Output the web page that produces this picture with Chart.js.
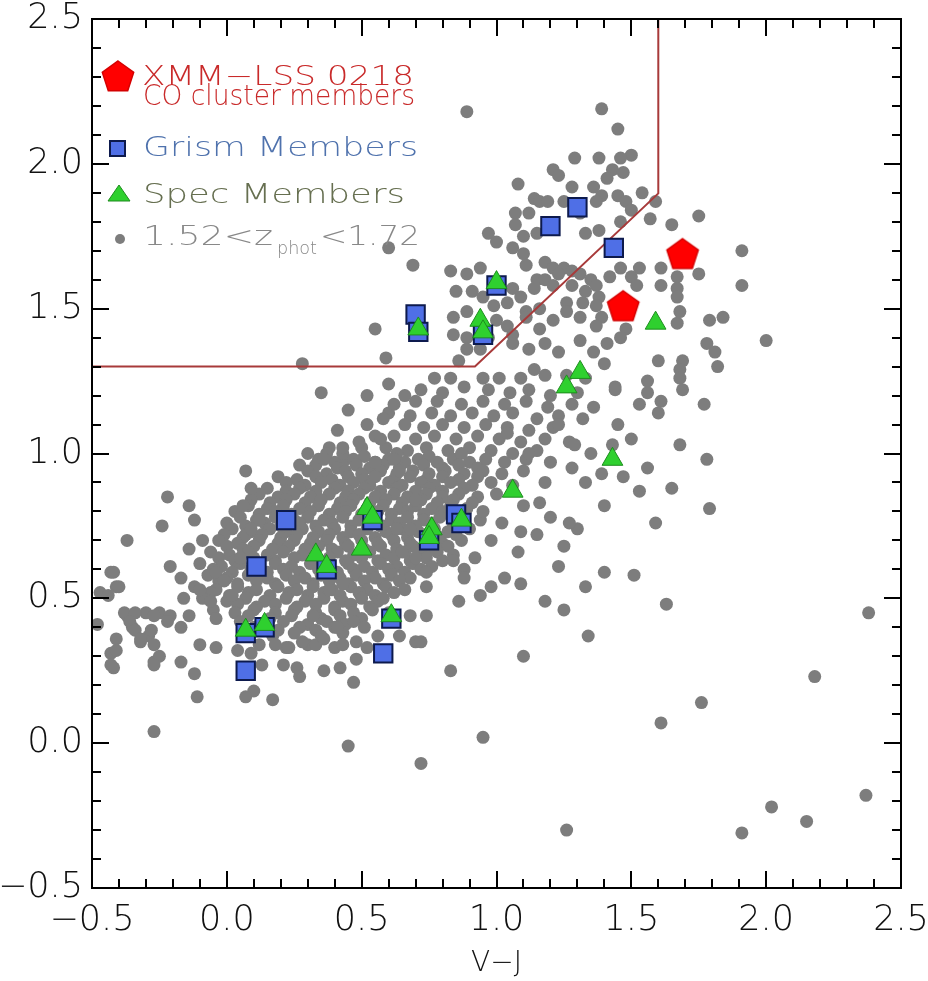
<!DOCTYPE html>
<html>
<head>
<meta charset="utf-8">
<title>UVJ diagram</title>
<script src="https://cdn.jsdelivr.net/npm/chart.js@4.4.0/dist/chart.umd.min.js"></script>
<style>
  html, body { margin: 0; padding: 0; background: #fff; }
</style>
</head>
<body>
<canvas id="mycanvas" width="928" height="981"></canvas>
<script>
// V-J / U-V colours of the cluster samples
var coMembers = [[1.47, 1.51], [1.69, 1.69]];

var grismMembers = [
    [1.30, 1.85], [1.20, 1.785], [1.435, 1.71], [1.00, 1.58], [0.70, 1.48], [0.71, 1.42], [0.95, 1.41],
    [0.85, 0.79], [0.87, 0.76], [0.75, 0.70], [0.54, 0.77], [0.22, 0.77], [0.11, 0.61], [0.37, 0.60],
    [0.61, 0.43], [0.58, 0.31], [0.07, 0.38], [0.14, 0.40], [0.07, 0.25]
];

var specMembers = [
    [1.59, 1.45], [1.31, 1.28], [1.26, 1.23], [1.43, 0.98], [1.06, 0.87], [0.94, 1.46], [0.95, 1.42],
    [1.00, 1.59], [0.71, 1.43], [0.87, 0.77], [0.76, 0.74], [0.75, 0.71], [0.52, 0.81], [0.54, 0.78],
    [0.50, 0.67], [0.33, 0.65], [0.37, 0.61], [0.61, 0.44], [0.07, 0.39], [0.14, 0.41]
];

// quiescent selection: U-V > 1.3, V-J < 1.6, U-V > 0.88(V-J) + 0.49
var boxVJ = [-0.5, 0.92, 1.6, 1.6];
var boxUV = [1.3, 1.3, 1.898, 2.5];

// photometric-redshift sample 1.52 < z_phot < 1.72
var photzSample = [
    // upper arm
    [0.89, 2.18], [1.39, 2.19], [1.45, 2.12], [1.29, 2.02], [1.38, 2.02], [1.50, 2.03], [1.46, 2.02], [1.43, 1.98],
    [1.47, 1.97], [1.41, 1.95], [1.21, 1.98], [1.23, 1.96], [1.08, 1.93], [1.28, 1.92], [1.36, 1.92], [1.54, 1.90],
    [1.39, 1.89], [1.45, 1.89], [1.48, 1.87], [1.59, 1.87], [1.50, 1.84], [1.57, 1.81], [1.46, 1.80], [1.75, 1.82],
    [1.65, 1.79], [1.14, 1.88], [1.16, 1.87], [1.19, 1.87], [1.25, 1.87], [1.37, 1.87], [1.07, 1.83], [1.12, 1.83],
    [1.31, 1.83], [0.97, 1.76], [1.00, 1.73], [1.07, 1.79], [1.10, 1.75], [1.15, 1.76], [1.33, 1.76], [1.38, 1.77],
    [1.06, 1.71], [1.10, 1.69], [0.60, 1.71], [0.69, 1.65], [0.83, 1.63], [0.89, 1.62], [0.94, 1.64], [1.11, 1.65],
    [1.18, 1.66], [1.21, 1.64], [1.25, 1.64], [1.28, 1.63], [1.15, 1.60], [1.18, 1.60], [1.23, 1.62], [1.31, 1.62],
    [1.35, 1.60], [1.46, 1.64], [1.53, 1.64], [1.42, 1.61], [1.50, 1.61], [1.61, 1.64], [1.75, 1.62], [1.91, 1.70],
    [1.91, 1.58], [1.61, 1.58], [1.67, 1.61], [1.52, 1.58], [1.67, 1.57], [1.67, 1.54], [1.38, 1.54], [1.68, 1.49],
    [1.39, 1.47], [1.67, 1.45], [1.79, 1.46], [1.84, 1.47], [1.48, 1.43], [1.46, 1.40], [1.41, 1.38], [2.00, 1.39],
    [1.78, 1.38], [1.81, 1.35], [1.82, 1.30], [1.60, 1.32], [1.69, 1.32], [1.68, 1.29], [1.68, 1.26], [1.56, 1.25],
    [1.44, 1.23], [1.40, 1.31], [1.56, 1.21], [1.69, 1.22], [1.61, 1.18], [1.44, 1.22],
    [0.85, 1.56], [0.91, 1.56], [0.95, 1.54], [1.06, 1.57], [1.14, 1.57], [1.21, 1.58], [1.28, 1.58], [1.33, 1.56],
    [1.37, 1.58], [0.84, 1.47], [0.89, 1.49], [0.99, 1.51], [1.04, 1.52], [1.09, 1.54], [1.11, 1.49], [1.16, 1.50],
    [1.26, 1.52], [1.32, 1.52], [1.37, 1.51], [0.84, 1.41], [0.89, 1.40], [1.00, 1.46], [1.04, 1.44], [1.06, 1.41],
    [1.11, 1.47], [1.16, 1.43], [1.21, 1.46], [1.26, 1.49], [1.31, 1.47], [1.37, 1.44], [0.59, 1.33], [0.86, 1.32],
    [0.89, 1.36], [0.94, 1.36], [0.97, 1.40], [1.06, 1.38], [1.12, 1.36], [1.18, 1.38], [1.23, 1.35], [1.31, 1.39],
    [1.36, 1.35], [0.77, 1.26], [0.83, 1.26], [0.95, 1.26], [1.01, 1.26], [1.09, 1.26], [1.14, 1.29], [1.18, 1.27],
    [1.26, 1.27], [1.33, 1.26], [0.55, 1.43], [0.28, 1.31], [0.35, 1.21],
    // band between the arm and the core
    [0.72, 1.22], [0.80, 1.21], [0.88, 1.23], [0.97, 1.22], [1.05, 1.21], [1.12, 1.22], [1.20, 1.20], [1.30, 1.21],
    [0.70, 1.18], [0.78, 1.18], [0.87, 1.17], [0.95, 1.18], [1.03, 1.17], [1.11, 1.18], [1.19, 1.16], [1.28, 1.17],
    [1.36, 1.16], [0.60, 1.14], [0.68, 1.13], [0.76, 1.14], [0.83, 1.13], [0.91, 1.14], [0.99, 1.13], [1.06, 1.14],
    [1.15, 1.12], [1.23, 1.13], [1.32, 1.12], [0.66, 1.10], [0.73, 1.09], [0.80, 1.10], [0.88, 1.09], [0.96, 1.10],
    [1.04, 1.09], [1.12, 1.08], [1.21, 1.09], [0.55, 1.06], [0.62, 1.06], [0.70, 1.05], [0.77, 1.06], [0.85, 1.05],
    [0.93, 1.06], [1.01, 1.05], [1.09, 1.04], [1.18, 1.05], [1.27, 1.04], [0.50, 1.02], [0.59, 1.02], [0.67, 1.01],
    [0.74, 1.02], [0.82, 1.01], [0.90, 1.02], [0.98, 1.01], [1.06, 1.00], [1.15, 1.01], [0.45, 1.15], [0.52, 1.10],
    [0.58, 1.12], [0.62, 1.17], [0.66, 1.20], [0.41, 1.08], [0.60, 1.24], [0.52, 1.20], [0.38, 1.02], [0.30, 1.00],
    [0.44, 0.98], [0.49, 1.04], [0.57, 1.05],
    // core
    [0.34, 0.98], [0.40, 0.97], [0.47, 0.98], [0.55, 0.97], [0.60, 0.98], [0.66, 0.97], [0.71, 0.98], [0.78, 0.97],
    [0.84, 0.98], [0.90, 0.97], [0.96, 0.98], [1.03, 0.97], [1.11, 0.98], [1.20, 0.97],
    [0.37, 1.00], [0.43, 1.00], [0.51, 0.99], [0.63, 1.00], [0.75, 0.99], [0.87, 1.00],
    [0.27, 0.96], [0.33, 0.96], [0.41, 0.95], [0.48, 0.96], [0.53, 0.95], [0.58, 0.96], [0.64, 0.95], [0.73, 0.96],
    [0.80, 0.95], [0.86, 0.96], [0.93, 0.95],
    [0.30, 0.94], [0.37, 0.93], [0.44, 0.94], [0.50, 0.93], [0.57, 0.94], [0.63, 0.93], [0.69, 0.94], [0.75, 0.93],
    [0.81, 0.94], [0.88, 0.93], [0.95, 0.94], [1.02, 0.93], [1.10, 0.94],
    [0.19, 0.92], [0.26, 0.91], [0.33, 0.92], [0.39, 0.91], [0.45, 0.92], [0.51, 0.91], [0.55, 0.92], [0.62, 0.91],
    [0.68, 0.92], [0.74, 0.91], [0.80, 0.92], [0.86, 0.91], [0.93, 0.92],
    [0.22, 0.90], [0.29, 0.89], [0.35, 0.90], [0.42, 0.89], [0.47, 0.90], [0.53, 0.89], [0.60, 0.90], [0.65, 0.89],
    [0.72, 0.90], [0.77, 0.89], [0.83, 0.90], [0.91, 0.89], [0.98, 0.90], [1.06, 0.89],
    [0.15, 0.88], [0.22, 0.87], [0.27, 0.88], [0.33, 0.87], [0.40, 0.88], [0.45, 0.87], [0.51, 0.88], [0.57, 0.87],
    [0.63, 0.88], [0.70, 0.87], [0.75, 0.88], [0.80, 0.87], [0.88, 0.88],
    [0.12, 0.86], [0.19, 0.85], [0.25, 0.86], [0.31, 0.85], [0.38, 0.86], [0.44, 0.85], [0.49, 0.86], [0.55, 0.85],
    [0.62, 0.86], [0.67, 0.85], [0.74, 0.86], [0.80, 0.85], [0.86, 0.86], [0.93, 0.85], [1.00, 0.86],
    [0.09, 0.84], [0.16, 0.83], [0.22, 0.84], [0.29, 0.83], [0.35, 0.84], [0.42, 0.83], [0.47, 0.84], [0.53, 0.83],
    [0.59, 0.84], [0.65, 0.83], [0.72, 0.84], [0.78, 0.83], [0.84, 0.84], [0.91, 0.83],
    [0.08, 0.82], [0.15, 0.81], [0.21, 0.82], [0.27, 0.81], [0.34, 0.82], [0.41, 0.81], [0.46, 0.82], [0.52, 0.81],
    [0.58, 0.82], [0.64, 0.81], [0.70, 0.82], [0.76, 0.81], [0.83, 0.82], [0.89, 0.81],
    [0.03, 0.80], [0.12, 0.79], [0.18, 0.80], [0.24, 0.79], [0.31, 0.80], [0.38, 0.79], [0.44, 0.80], [0.50, 0.79],
    [0.56, 0.80], [0.61, 0.79], [0.67, 0.80], [0.73, 0.79], [0.80, 0.80], [0.86, 0.79],
    [0.05, 0.78], [0.11, 0.77], [0.18, 0.78], [0.25, 0.77], [0.30, 0.78], [0.36, 0.77], [0.43, 0.78], [0.49, 0.77],
    [0.55, 0.78], [0.61, 0.77], [0.67, 0.78], [0.73, 0.77], [0.79, 0.78], [0.94, 0.77],
    [0.00, 0.76], [0.07, 0.75], [0.14, 0.76], [0.20, 0.75], [0.27, 0.76], [0.33, 0.75], [0.39, 0.76], [0.46, 0.75],
    [0.52, 0.76], [0.58, 0.75], [0.64, 0.76], [0.70, 0.75], [0.76, 0.76], [0.84, 0.75],
    [0.02, 0.74], [0.09, 0.73], [0.16, 0.74], [0.22, 0.73], [0.28, 0.74], [0.34, 0.73], [0.40, 0.74], [0.46, 0.73],
    [0.52, 0.74], [0.59, 0.73], [0.65, 0.74], [0.71, 0.73], [0.77, 0.74], [0.82, 0.73], [0.90, 0.74],
    [-0.01, 0.72], [0.06, 0.71], [0.13, 0.72], [0.20, 0.71], [0.26, 0.72], [0.32, 0.71], [0.38, 0.72], [0.43, 0.71],
    [0.49, 0.72], [0.55, 0.71], [0.61, 0.72], [0.67, 0.71], [0.74, 0.72], [0.79, 0.71], [0.85, 0.72],
    [-0.03, 0.70], [0.04, 0.69], [0.12, 0.70], [0.19, 0.69], [0.25, 0.70], [0.31, 0.69], [0.37, 0.70], [0.44, 0.69],
    [0.50, 0.70], [0.56, 0.69], [0.62, 0.70], [0.68, 0.69], [0.80, 0.69], [0.87, 0.70],
    [0.00, 0.68], [0.06, 0.67], [0.10, 0.68], [0.17, 0.67], [0.23, 0.68], [0.29, 0.67], [0.34, 0.68], [0.39, 0.67],
    [0.45, 0.68], [0.51, 0.67], [0.57, 0.68], [0.63, 0.67], [0.69, 0.68], [0.75, 0.67], [0.82, 0.68],
    [-0.06, 0.66], [0.01, 0.65], [0.08, 0.66], [0.15, 0.65], [0.21, 0.66], [0.28, 0.65], [0.41, 0.66], [0.47, 0.65],
    [0.53, 0.66], [0.59, 0.65], [0.66, 0.66], [0.72, 0.65], [0.78, 0.66], [0.84, 0.65],
    [-0.03, 0.64], [0.03, 0.63], [0.10, 0.64], [0.18, 0.63], [0.25, 0.64], [0.32, 0.63], [0.38, 0.64], [0.44, 0.63],
    [0.50, 0.64], [0.56, 0.63], [0.62, 0.64], [0.68, 0.63], [0.74, 0.64], [0.80, 0.63],
    [-0.10, 0.62], [-0.02, 0.61], [0.05, 0.62], [0.12, 0.61], [0.18, 0.62], [0.24, 0.61], [0.31, 0.62], [0.38, 0.61],
    [0.45, 0.62], [0.51, 0.61], [0.57, 0.62], [0.63, 0.61], [0.69, 0.62], [0.76, 0.61],
    [-0.05, 0.60], [0.02, 0.59], [0.09, 0.60], [0.15, 0.59], [0.21, 0.60], [0.27, 0.59], [0.34, 0.60], [0.41, 0.59],
    [0.47, 0.60], [0.54, 0.59], [0.60, 0.60], [0.66, 0.59], [0.72, 0.60],
    [-0.07, 0.58], [0.00, 0.57], [0.08, 0.58], [0.15, 0.57], [0.22, 0.58], [0.29, 0.57], [0.35, 0.58], [0.42, 0.57],
    [0.48, 0.58], [0.55, 0.57], [0.61, 0.58], [0.68, 0.57],
    [-0.03, 0.56], [0.04, 0.55], [0.11, 0.56], [0.18, 0.55], [0.25, 0.56], [0.32, 0.55], [0.38, 0.56], [0.45, 0.55],
    [0.51, 0.56], [0.58, 0.55], [0.64, 0.56],
    [-0.12, 0.54], [-0.04, 0.53], [0.04, 0.54], [0.11, 0.53], [0.19, 0.54], [0.26, 0.53], [0.32, 0.54], [0.39, 0.53],
    [0.46, 0.54], [0.52, 0.53], [0.59, 0.54], [0.66, 0.53],
    [-0.06, 0.52], [0.01, 0.51], [0.08, 0.52], [0.16, 0.51], [0.23, 0.52], [0.30, 0.51], [0.36, 0.52], [0.42, 0.51],
    [0.49, 0.52], [0.55, 0.51], [0.62, 0.52],
    [-0.09, 0.50], [0.00, 0.49], [0.07, 0.50], [0.14, 0.49], [0.22, 0.50], [0.29, 0.49], [0.36, 0.50], [0.43, 0.49],
    [0.50, 0.50], [0.56, 0.49],
    [0.04, 0.48], [0.11, 0.47], [0.18, 0.48], [0.26, 0.47], [0.33, 0.48], [0.40, 0.47], [0.46, 0.48], [0.53, 0.47],
    [-0.05, 0.46], [0.03, 0.45], [0.10, 0.46], [0.18, 0.45], [0.25, 0.46], [0.33, 0.45], [0.40, 0.46], [0.47, 0.45],
    [0.54, 0.46], [0.08, 0.44], [0.16, 0.43], [0.24, 0.44], [0.35, 0.43], [0.42, 0.44], [0.50, 0.43],
    [0.05, 0.42], [0.13, 0.41], [0.21, 0.42], [0.30, 0.41], [0.37, 0.42], [0.44, 0.41],
    [0.10, 0.40], [0.19, 0.39], [0.27, 0.40], [0.33, 0.39], [0.40, 0.40],
    [0.09, 0.38], [0.17, 0.37], [0.25, 0.38], [0.35, 0.37], [0.43, 0.38], [0.12, 0.34], [0.22, 0.33], [0.30, 0.34],
    [0.40, 0.33],
    // edges of the core and the blue tail
    [0.07, 0.94], [-0.22, 0.85], [-0.14, 0.82], [0.06, 0.82], [0.09, 0.88], [0.36, 0.98], [0.43, 1.02], [0.55, 0.97],
    [0.62, 0.98], [0.64, 0.94], [0.70, 0.84], [0.68, 0.74], [-0.24, 0.75], [-0.12, 0.77], [-0.37, 0.70], [-0.14, 0.67],
    [-0.09, 0.70], [-0.21, 0.61], [-0.43, 0.59], [-0.47, 0.52], [-0.48, 0.41], [-0.41, 0.54], [-0.37, 0.44],
    [-0.35, 0.40], [-0.30, 0.45], [-0.25, 0.45], [-0.21, 0.44], [-0.16, 0.50], [-0.17, 0.57], [-0.10, 0.53],
    [-0.04, 0.59], [-0.01, 0.56], [-0.06, 0.49], [0.02, 0.51], [0.05, 0.64], [0.07, 0.72], [-0.04, 0.43],
    [-0.14, 0.44], [-0.17, 0.40], [-0.22, 0.42], [-0.29, 0.37], [-0.32, 0.35], [-0.41, 0.36], [-0.43, 0.31],
    [-0.42, 0.26], [-0.27, 0.28], [-0.25, 0.30], [-0.17, 0.28], [-0.10, 0.34], [-0.04, 0.33], [0.04, 0.32],
    [0.18, 0.34], [0.23, 0.33], [0.28, 0.35], [0.33, 0.34], [0.36, 0.36], [0.41, 0.40], [0.47, 0.42], [0.51, 0.40],
    [0.43, 0.34], [0.48, 0.35], [0.56, 0.37], [0.70, 0.35], [0.64, 0.37], [0.52, 0.33], [0.48, 0.29], [0.42, 0.26],
    [0.36, 0.25], [0.26, 0.26], [0.27, 0.23], [0.21, 0.27], [0.13, 0.27], [-0.12, 0.24], [0.09, 0.31], [0.10, 0.18],
    [0.07, 0.16], [-0.11, 0.16], [0.17, 0.15], [-0.27, 0.04], [0.47, 0.21], [0.32, 0.44], [0.60, 0.45], [0.68, 0.44],
    [0.38, 0.53], [0.43, 0.55], [0.58, 0.50], [0.65, 0.66], [0.70, 0.64], [0.63, 0.74], [0.57, 0.75], [0.12, 0.77],
    [0.09, 0.74], [-0.38, 0.45], [-0.34, 0.45], [-0.27, 0.44], [-0.36, 0.42], [-0.34, 0.39], [-0.32, 0.36],
    [-0.28, 0.39], [-0.27, 0.34], [-0.41, 0.32], [-0.43, 0.27], [-0.27, 0.27], [-0.42, 0.59], [-0.40, 0.54],
    [-0.44, 0.51], [0.45, -0.01],
    // redder galaxies below the sequence
    [0.74, 0.59], [0.84, 0.63], [0.88, 0.60], [0.88, 0.57], [0.74, 0.54], [0.86, 0.49], [0.94, 0.51], [0.98, 0.54],
    [1.03, 0.57], [1.09, 0.55], [1.23, 0.61], [1.40, 0.59], [1.51, 0.58], [1.33, 0.54], [1.18, 0.49], [1.25, 0.46],
    [1.63, 0.48], [0.74, 0.44], [0.72, 0.35], [1.34, 0.37], [1.10, 0.30], [0.83, 0.25], [2.38, 0.45], [2.18, 0.23],
    [1.76, 0.14], [1.61, 0.07], [0.95, 0.02], [0.72, -0.07], [2.37, -0.18], [2.02, -0.22], [2.15, -0.27],
    [1.91, -0.31], [1.26, -0.30],
    [0.95, 0.80], [1.02, 0.76], [1.10, 0.82], [1.15, 0.72], [0.98, 0.70], [1.08, 0.66], [1.20, 0.78], [1.25, 0.68],
    [0.92, 0.64], [1.30, 0.74], [1.18, 0.90], [1.28, 0.95], [1.35, 1.00], [1.04, 1.07], [1.12, 1.00], [1.23, 1.10],
    [1.29, 1.03], [1.39, 0.93], [1.43, 1.03], [1.16, 0.83], [1.27, 0.76], [1.33, 0.90], [1.09, 0.73],
    [1.53, 1.17], [1.60, 1.14], [1.77, 1.17], [1.68, 1.03], [1.78, 0.98], [1.53, 0.87], [1.59, 0.76], [1.45, 1.10],
    [1.50, 1.05], [1.47, 0.92], [1.56, 0.95], [1.65, 0.88], [1.40, 0.82], [1.79, 0.81]
];

function toXY(list) {
    return list.map(function (p) { return { x: p[0], y: p[1] }; });
}

function makePentagon(size, fill, edge) {
    var c = document.createElement('canvas');
    c.width = size;
    c.height = size;
    var g = c.getContext('2d');
    var r = size / 2 - 1.5;
    var cx = size / 2, cy = size / 2 + r * 0.09;
    g.beginPath();
    for (var i = 0; i < 5; i++) {
        var a = -Math.PI / 2 + i * 2 * Math.PI / 5;
        g.lineTo(cx + r * Math.cos(a), cy + r * Math.sin(a));
    }
    g.closePath();
    g.fillStyle = fill;
    g.fill();
    g.lineWidth = 1.5;
    g.strokeStyle = edge;
    g.stroke();
    return c;
}

var pentMark = makePentagon(36, '#ff0000', '#d40000');
var FONT = '"DejaVu Sans", "Liberation Sans", sans-serif';

// draws text squeezed or stretched to a given width
function fitText(ctx, txt, x, y, width, size, color) {
    ctx.font = '300 ' + size + 'px ' + FONT;
    ctx.fillStyle = color;
    var w = ctx.measureText(txt).width;
    ctx.save();
    ctx.translate(x, y);
    ctx.scale(width / w, 1);
    ctx.fillText(txt, 0, 0);
    ctx.restore();
}

var framePlugin = {
    id: 'frame',
    afterDatasetsDraw: function (chart) {
        var ctx = chart.ctx, a = chart.chartArea;
        var xs = chart.scales.x, ys = chart.scales.y;
        ctx.save();
        ctx.strokeStyle = '#000';
        ctx.lineWidth = 2;
        ctx.strokeRect(a.left, a.top, a.right - a.left, a.bottom - a.top);
        ctx.beginPath();
        for (var i = 0; i <= 30; i++) {
            var v = -0.5 + i * 0.1;
            var len = (i % 5 === 0) ? 17 : 9;
            var px = Math.round(xs.getPixelForValue(v));
            ctx.moveTo(px, a.bottom); ctx.lineTo(px, a.bottom - len);
            ctx.moveTo(px, a.top); ctx.lineTo(px, a.top + len);
            var py = Math.round(ys.getPixelForValue(v));
            ctx.moveTo(a.left, py); ctx.lineTo(a.left + len, py);
            ctx.moveTo(a.right, py); ctx.lineTo(a.right - len, py);
        }
        ctx.stroke();
        ctx.restore();
    }
};

var legendPlugin = {
    id: 'sampleLegend',
    afterDraw: function (chart) {
        var ctx = chart.ctx, a = chart.chartArea;
        var x0 = a.left, y0 = a.top;
        ctx.save();
        ctx.textBaseline = 'alphabetic';

        ctx.drawImage(pentMark, x0 + 26 - 18, y0 + 57 - 18);
        fitText(ctx, 'XMM\u2212LSS 0218', x0 + 50, y0 + 66, 272, 27, '#c92a2a');
        fitText(ctx, 'CO cluster members', x0 + 51, y0 + 86, 272, 28, '#c92a2a');

        ctx.fillStyle = '#4f6fe6';
        ctx.strokeStyle = '#0d1a4d';
        ctx.lineWidth = 2;
        ctx.fillRect(x0 + 18, y0 + 122, 15, 15);
        ctx.strokeRect(x0 + 18, y0 + 122, 15, 15);
        fitText(ctx, 'Grism Members', x0 + 51, y0 + 137, 275, 27, '#4f72ad');

        ctx.beginPath();
        ctx.moveTo(x0 + 27, y0 + 166);
        ctx.lineTo(x0 + 38, y0 + 182);
        ctx.lineTo(x0 + 16, y0 + 182);
        ctx.closePath();
        ctx.fillStyle = '#2fd02f';
        ctx.fill();
        ctx.strokeStyle = '#1e8c1e';
        ctx.lineWidth = 1;
        ctx.stroke();
        fitText(ctx, 'Spec Members', x0 + 51, y0 + 184, 262, 27, '#666f50');

        ctx.beginPath();
        ctx.arc(x0 + 28, y0 + 220, 5, 0, 2 * Math.PI);
        ctx.fillStyle = '#7d7d7d';
        ctx.fill();
        fitText(ctx, '1.52<z', x0 + 51, y0 + 226, 130, 27, '#888');
        fitText(ctx, 'phot', x0 + 185, y0 + 235, 40, 17, '#888');
        fitText(ctx, '<1.72', x0 + 228, y0 + 226, 100, 27, '#888');
        ctx.restore();
    }
};

function tickText(v) {
    var s = Math.abs(v).toFixed(1);
    return v < -1e-9 ? '\u2212' + s : s;
}

var ctx = document.getElementById('mycanvas');

var uvjChart = new Chart(ctx, {
    type: 'scatter',
    data: {
        datasets: [{
            label: 'XMM\u2212LSS 0218 CO cluster members',
            data: toXY(coMembers),
            pointStyle: pentMark,
            pointRadius: 18,
            order: 0
        }, {
            label: 'Spec Members',
            data: toXY(specMembers),
            pointStyle: 'triangle',
            pointRadius: 12,
            backgroundColor: '#2fd02f',
            borderColor: '#1e8c1e',
            borderWidth: 1,
            order: 1
        }, {
            label: 'Grism Members',
            data: toXY(grismMembers),
            pointStyle: 'rect',
            pointRadius: 13,
            backgroundColor: '#4f6fe6',
            borderColor: '#0d1a4d',
            borderWidth: 2,
            order: 2
        }, {
            label: 'selection',
            data: boxVJ.map(function (v, i) { return { x: v, y: boxUV[i] }; }),
            showLine: true,
            borderColor: '#a83a3a',
            borderWidth: 2,
            pointRadius: 0,
            fill: false,
            order: 3
        }, {
            label: '1.52<z_phot<1.72',
            data: toXY(photzSample),
            pointStyle: 'circle',
            pointRadius: 6.5,
            backgroundColor: '#7d7d7d',
            borderWidth: 0,
            order: 4
        }]
    },
    options: {
        responsive: false,
        animation: false,
        events: [],
        layout: { padding: { left: 0, right: 27, top: 11, bottom: 0 } },
        plugins: { legend: { display: false }, tooltip: { enabled: false } },
        scales: {
            x: {
                type: 'linear',
                min: -0.5,
                max: 2.5,
                grid: { display: false, drawTicks: false },
                border: { display: false },
                ticks: {
                    stepSize: 0.5,
                    autoSkip: false,
                    maxRotation: 0,
                    padding: 12,
                    color: '#111',
                    font: { family: FONT, size: 35, weight: '300' },
                    callback: tickText
                },
                title: {
                    display: true,
                    text: 'V\u2212J',
                    color: '#111',
                    font: { family: FONT, size: 28, weight: '300' },
                    padding: { top: 0, bottom: 0 }
                },
                afterFit: function (s) {
                    s.height = 93;
                    s.paddingLeft = 0;
                    s.paddingRight = 0;
                }
            },
            y: {
                type: 'linear',
                min: -0.5,
                max: 2.5,
                grid: { display: false, drawTicks: false },
                border: { display: false },
                ticks: {
                    stepSize: 0.5,
                    autoSkip: false,
                    padding: 9,
                    color: '#111',
                    font: { family: FONT, size: 35, weight: '300' },
                    callback: tickText
                },
                afterFit: function (s) {
                    s.width = 92;
                    s.paddingTop = 0;
                    s.paddingBottom = 0;
                }
            }
        }
    },
    plugins: [framePlugin, legendPlugin]
});
</script>
</body>
</html>
